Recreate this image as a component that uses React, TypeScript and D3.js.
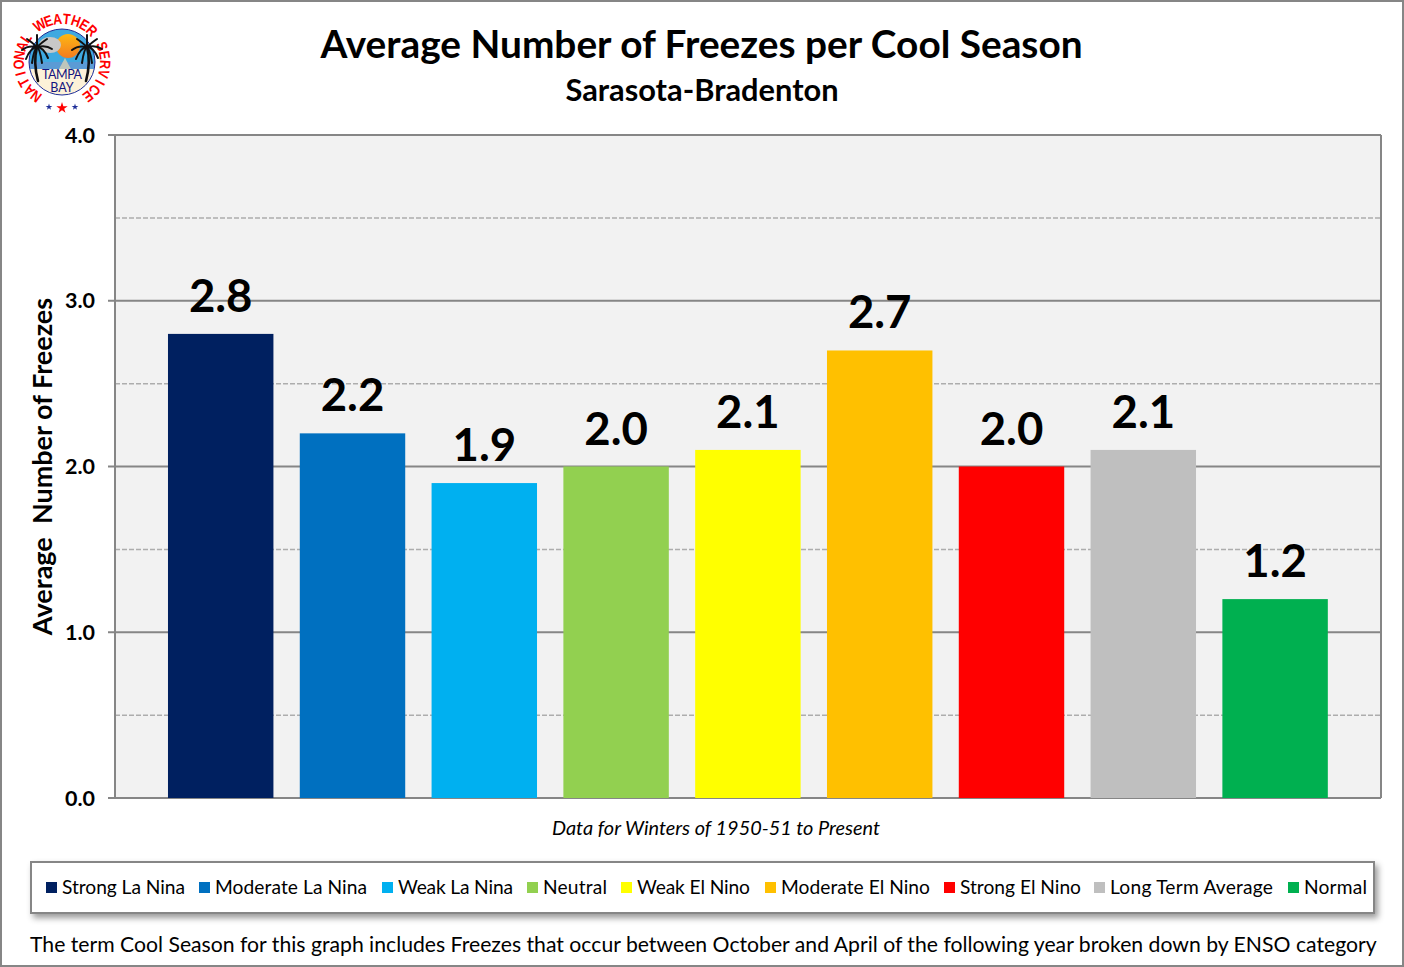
import { scaleBand, scaleLinear, range as d3range, symbol, symbolStar } from 'd3';

const categories = ['Strong La Nina', 'Moderate La Nina', 'Weak La Nina', 'Neutral', 'Weak El Nino', 'Moderate El Nino', 'Strong El Nino', 'Long Term Average', 'Normal'];
const values = [2.8, 2.2, 1.9, 2.0, 2.1, 2.7, 2.0, 2.1, 1.2];
const colors = ['#002060', '#0070C0', '#00B0F0', '#92D050', '#FFFF00', '#FFC000', '#FF0000', '#BFBFBF', '#00B050'];
const majorTicks = [0, 1, 2, 3, 4];
const minorTicks = [0.5, 1.5, 2.5, 3.5];
const legendX = [46, 199, 382, 527, 621, 765, 944, 1094, 1288];
const legendTextWidth = [123, 152, 115, 64, 113, 149, 121, 163, 63];
const logoLetters = 'NATIONAL WEATHER SERVICE'.split('');

const FONT = 'Lato, "Open Sans", sans-serif';
const BORDER = '#868686';

const y = scaleLinear().domain([0, 4]).range([798, 135]);
const x = scaleBand<string>().domain(categories).range([154.8, 1341]).paddingInner(0.2).paddingOuter(0.1);
const ringAngle = scaleLinear().domain([0, logoLetters.length - 1]).range([-143, 143]);

function Palm({ cx, cy, s }: { cx: number; cy: number; s: number }) {
  const tx = cx + s * 25;
  const ty = cy - 15;
  const fronds = [[-15, 3], [15, 2], [-10, -8], [10, -8], [-11, 12], [11, 11], [0, -12], [-5, 16], [5, 16]];
  return (
    <g stroke="#111" fill="none" strokeLinecap="round">
      <path d={`M ${cx + s * 24} ${cy + 19} Q ${cx + s * 29} ${cy} ${tx} ${ty}`} strokeWidth={2.6} />
      {fronds.map(([dx, dy], i) => (
        <path key={i} d={`M ${tx} ${ty} Q ${tx + dx * 0.6} ${ty + dy * 0.3 - 3} ${tx + dx} ${ty + dy}`} strokeWidth={2} />
      ))}
    </g>
  );
}

function Logo() {
  const cx = 62;
  const cy = 62;
  const star = symbol().type(symbolStar);
  return (
    <g>
      <defs>
        <clipPath id="logo-clip"><circle cx={cx} cy={cy} r={33} /></clipPath>
        <linearGradient id="logo-sun" x1="0" y1="0" x2="0" y2="1">
          <stop offset="0%" stopColor="#FDB813" />
          <stop offset="100%" stopColor="#F47B20" />
        </linearGradient>
      </defs>
      {logoLetters.map((ch, i) => (
        <text
          key={i}
          transform={`translate(${cx},${cy}) rotate(${ringAngle(i)}) translate(0,-38) scale(1,1.2)`}
          textAnchor="middle"
          fontFamily='"Liberation Sans Narrow", "Liberation Sans", sans-serif'
          fontWeight={700}
          fontSize={12.5}
          fill="#FF0000"
        >
          {ch}
        </text>
      ))}
      <circle cx={cx} cy={cy} r={33} fill="#FDF2D8" />
      <g clipPath="url(#logo-clip)">
        <rect x={cx - 33} y={cy - 33} width={66} height={33} fill="#3FA9E0" />
        <rect x={cx - 33} y={cy} width={66} height={7} fill="#5B9BD5" />
        <circle cx={cx + 6} cy={cy - 16} r={12} fill="url(#logo-sun)" />
        <ellipse cx={cx - 12} cy={cy - 17} rx={11} ry={8} fill="#C8C8C8" />
        <path d={`M ${cx - 3} ${cy + 7} L ${cx + 3} ${cy - 4} L ${cx + 9} ${cy + 7} Z`} fill="#E8D9B0" opacity={0.7} />
      </g>
      <circle cx={cx} cy={cy} r={33} fill="none" stroke="#1F2F99" strokeWidth={1} />
      <Palm cx={cx} cy={cy} s={-1} />
      <Palm cx={cx} cy={cy} s={1} />
      <text x={cx} y={cy + 17} textAnchor="middle" fontFamily={FONT} fontSize={12.5} fill="#14147F" textLength={40}>TAMPA</text>
      <text x={cx} y={cy + 30} textAnchor="middle" fontFamily={FONT} fontSize={12.5} fill="#14147F">BAY</text>
      <path d={star.size(40)() as string} transform={`translate(${cx},${cy + 46})`} fill="#FF0000" />
      <path d={star.size(14)() as string} transform={`translate(${cx - 13},${cy + 45})`} fill="#1F2F99" />
      <path d={star.size(14)() as string} transform={`translate(${cx + 13},${cy + 45})`} fill="#1F2F99" />
    </g>
  );
}

export default function App() {
  return (
    <svg width={1404} height={967} style={{ position: 'absolute', left: 0, top: 0, background: '#fff' }} fontFamily={FONT}>
      <defs>
        <filter id="legend-shadow" x="-2%" y="-20%" width="104%" height="150%">
          <feDropShadow dx={3} dy={4} stdDeviation={3} floodColor="#000" floodOpacity={0.4} />
        </filter>
      </defs>
      <rect x={1} y={1} width={1402} height={965} fill="#fff" stroke={BORDER} strokeWidth={2} />
      <Logo />

      <text x={701.5} y={58} textAnchor="middle" fontSize={38.8} fontWeight={700}>Average Number of Freezes per Cool Season</text>
      <text x={702} y={101} textAnchor="middle" fontSize={30.8} fontWeight={700}>Sarasota-Bradenton</text>

      {/* Plot area */}
      <rect x={115} y={y(4)} width={1266} height={y(0) - y(4)} fill="#F2F2F2" />
      {minorTicks.map((t) => (
        <line key={t} x1={115} x2={1381} y1={y(t)} y2={y(t)} stroke="#ADADAD" strokeWidth={1.5} strokeDasharray="5 2" />
      ))}
      {majorTicks.map((t) => (
        <line key={t} x1={108} x2={1381} y1={y(t)} y2={y(t)} stroke={BORDER} strokeWidth={2} />
      ))}
      <line x1={115} x2={115} y1={y(4)} y2={y(0)} stroke={BORDER} strokeWidth={2} />
      <line x1={1381} x2={1381} y1={y(4)} y2={y(0)} stroke={BORDER} strokeWidth={2} />

      {majorTicks.map((t) => (
        <text key={t} x={95} y={y(t) + 7.5} textAnchor="end" fontSize={21.5} fontWeight={700}>{t.toFixed(1)}</text>
      ))}

      {categories.map((c, i) => (
        <g key={c}>
          <rect x={x(c)} y={y(values[i])} width={x.bandwidth()} height={y(0) - y(values[i])} fill={colors[i]} />
          <text x={x(c)! + x.bandwidth() / 2} y={y(values[i]) - 22} textAnchor="middle" fontSize={45.5} fontWeight={700}>{values[i].toFixed(1)}</text>
        </g>
      ))}

      <text transform="translate(52,466.5) rotate(-90)" textAnchor="middle" fontSize={27} fontWeight={700} xmlSpace="preserve">Average  Number of Freezes</text>
      <text x={716} y={835} textAnchor="middle" fontSize={19.9} fontStyle="italic">Data for Winters of 1950-51 to Present</text>

      {/* Legend */}
      <rect x={31} y={862} width={1343} height={51} fill="#fff" stroke={BORDER} strokeWidth={2} filter="url(#legend-shadow)" />
      {d3range(categories.length).map((i) => (
        <g key={categories[i]}>
          <rect x={legendX[i]} y={882} width={11} height={11} fill={colors[i]} />
          <text x={legendX[i] + 16} y={894} fontSize={19.2} textLength={legendTextWidth[i]}>{categories[i]}</text>
        </g>
      ))}

      <text x={30} y={952} fontSize={21.2}>The term Cool Season for this graph includes Freezes that occur between October and April of the following year broken down by ENSO category</text>
    </svg>
  );
}
